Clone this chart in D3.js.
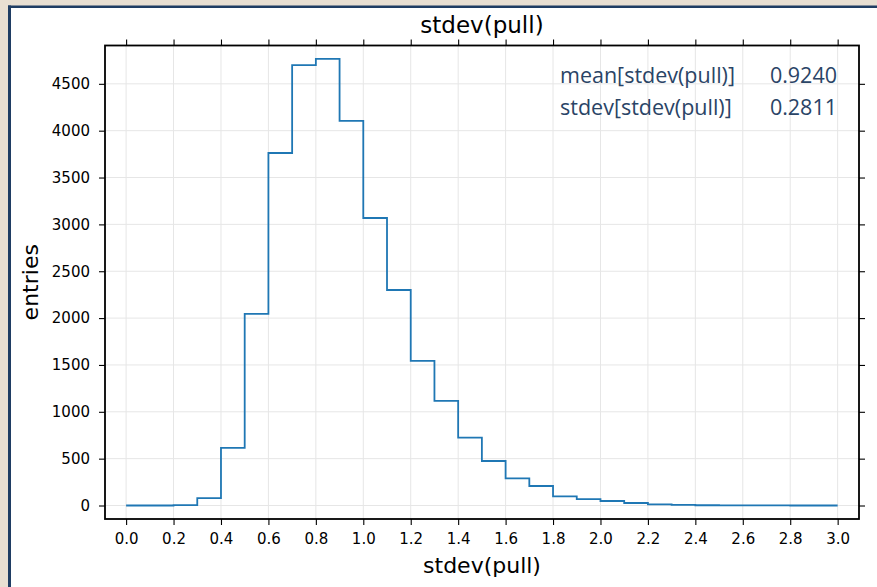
<!DOCTYPE html>
<html>
<head>
<meta charset="utf-8">
<script src="https://cdn.jsdelivr.net/npm/d3@7"></script>
<style>
html,body{margin:0;padding:0;background:#e8dfd2;}
svg{display:block;}
</style>
</head>
<body>
<svg id="chart" width="877" height="587"></svg>
<script>
// ---- data ----
const binLeft = [0.0,0.1,0.2,0.3,0.4,0.5,0.6,0.7,0.8,0.9,1.0,1.1,1.2,1.3,1.4,1.5,1.6,1.7,1.8,1.9,2.0,2.1,2.2,2.3,2.4,2.5,2.6,2.7,2.8,2.9];
const binWidth = 0.1;
const counts = [0,0,5,78,614,2044,3762,4700,4767,4105,3068,2300,1543,1116,724,475,290,208,98,69,48,27,13,6,3,2,1,1,0,0];
const xTicks = [0.0,0.2,0.4,0.6,0.8,1.0,1.2,1.4,1.6,1.8,2.0,2.2,2.4,2.6,2.8,3.0];
const yTicks = [0,500,1000,1500,2000,2500,3000,3500,4000,4500];
const statLabels = ["mean[stdev(pull)]","stdev[stdev(pull)]"];
const statValues = ["0.9240","0.2811"];
const title = "stdev(pull)";
const xLabel = "stdev(pull)";
const yLabel = "entries";

const svg = d3.select("#chart");
const W = 877, H = 587;
// page background
svg.append("rect").attr("width",W).attr("height",H).attr("fill","#e8dfd2");
svg.append("rect").attr("x",11).attr("y",8).attr("width",W-11).attr("height",H-8).attr("fill","#ffffff");
svg.append("rect").attr("x",8).attr("y",5.5).attr("width",W-8).attr("height",2.5).attr("fill","#1f3d63");
svg.append("rect").attr("x",8).attr("y",5.5).attr("width",3).attr("height",H-5.5).attr("fill","#1f3d63");

const L = 105, R = 859, T = 45.5, B = 519;
const x = d3.scaleLinear().domain([-0.089, 3.09]).range([L, R]);
const y = d3.scaleLinear().domain([-144, 4909]).range([B, T]);

const font = "DejaVu Sans, sans-serif";

// grid
const g = svg.append("g");
g.selectAll(".gx").data(xTicks).join("line")
  .attr("x1",d=>x(d)).attr("x2",d=>x(d)).attr("y1",T).attr("y2",B)
  .attr("stroke","#e6e6e6").attr("stroke-width",1);
g.selectAll(".gy").data(yTicks).join("line")
  .attr("y1",d=>y(d)).attr("y2",d=>y(d)).attr("x1",L).attr("x2",R)
  .attr("stroke","#e6e6e6").attr("stroke-width",1);

// histogram step line
const pts = binLeft.map((b,i)=>[b, counts[i]]);
pts.push([binLeft[binLeft.length-1]+binWidth, counts[counts.length-1]]);
const line = d3.line().x(d=>x(d[0])).y(d=>y(d[1])).curve(d3.curveStepAfter);
svg.append("path").datum(pts).attr("d",line)
  .attr("fill","none").attr("stroke","#1f77b4").attr("stroke-width",1.8);

// axes
function styleAxis(sel, showText){
  sel.select(".domain").remove();
  sel.selectAll(".tick line").attr("stroke","#000").attr("stroke-width",1.1);
  sel.selectAll(".tick text").attr("font-family",font).attr("font-size","15px").attr("fill","#000");
  if(!showText) sel.selectAll(".tick text").remove();
}
const fmt = d3.format(".1f");
svg.append("g").attr("transform",`translate(0,${B})`)
  .call(d3.axisBottom(x).tickValues(xTicks).tickFormat(fmt).tickSize(6).tickPadding(8))
  .call(s=>styleAxis(s,true));
svg.append("g").attr("transform",`translate(0,${T})`)
  .call(d3.axisTop(x).tickValues(xTicks).tickSize(6))
  .call(s=>styleAxis(s,false));
svg.append("g").attr("transform",`translate(${L},0)`)
  .call(d3.axisLeft(y).tickValues(yTicks).tickFormat(d3.format("d")).tickSize(6).tickPadding(9))
  .call(s=>styleAxis(s,true));
svg.append("g").attr("transform",`translate(${R},0)`)
  .call(d3.axisRight(y).tickValues(yTicks).tickSize(6))
  .call(s=>styleAxis(s,false));

// frame
svg.append("rect").attr("x",L).attr("y",T).attr("width",R-L).attr("height",B-T)
  .attr("fill","none").attr("stroke","#000").attr("stroke-width",1.8);

// title & labels
svg.append("text").attr("x",(L+R)/2).attr("y",33).attr("text-anchor","middle")
  .attr("font-family",font).attr("font-size","23px").attr("fill","#000").text(title);
svg.append("text").attr("x",(L+R)/2).attr("y",573).attr("text-anchor","middle")
  .attr("font-family",font).attr("font-size","22px").attr("fill","#000").text(xLabel);
svg.append("text").attr("transform",`translate(38,${(T+B)/2}) rotate(-90)`).attr("text-anchor","middle")
  .attr("font-family",font).attr("font-size","22px").attr("fill","#000").text(yLabel);

// stats box
const statFont = "'Open Sans', Lato, sans-serif";
statLabels.forEach((s,i)=>{
  svg.append("text").attr("x",560).attr("y",83+i*32)
    .attr("font-family",statFont).attr("font-size","21.5px").attr("fill","#2a4466").text(s);
  svg.append("text").attr("x",837).attr("y",83+i*32).attr("text-anchor","end")
    .attr("font-family",statFont).attr("font-size","21.5px").attr("fill","#2a4466").text(statValues[i]);
});
</script>
</body>
</html>
